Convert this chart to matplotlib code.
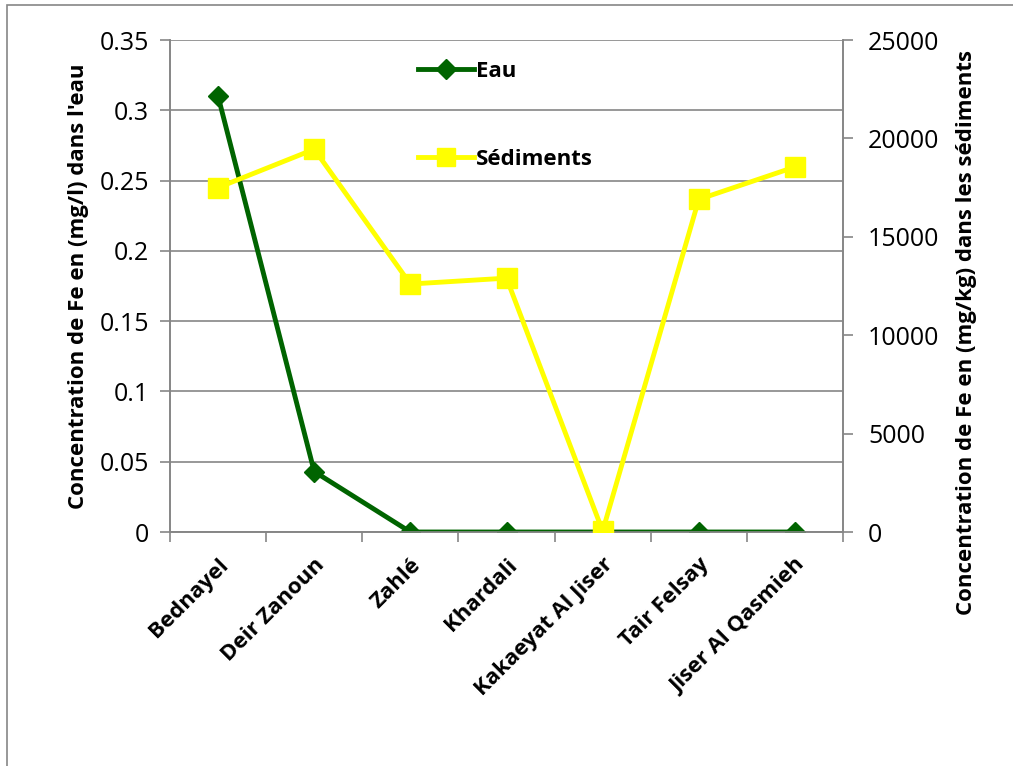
import matplotlib
matplotlib.use("Agg")
import matplotlib.pyplot as plt
from matplotlib.lines import Line2D
from matplotlib.patches import Rectangle

plt.rcParams['font.family'] = ['Open Sans', 'DejaVu Sans']

categories = ["Bednayel", "Deir Zanoun", "Zahlé", "Khardali", "Kakaeyat Al Jiser", "Tair Felsay", "Jiser Al Qasmieh"]
eau = [0.31, 0.043, 0.0, 0.0, 0.0, 0.0, 0.0]
sediments = [17500, 19450, 12600, 12900, 50, 16900, 18550]
left_ticks = [0, 0.05, 0.1, 0.15, 0.2, 0.25, 0.3, 0.35]
left_ticklabels = ["0", "0.05", "0.1", "0.15", "0.2", "0.25", "0.3", "0.35"]
right_ticks = [0, 5000, 10000, 15000, 20000, 25000]

W, H = 1013, 766
fig = plt.figure(figsize=(W/100, H/100), dpi=100)
ax = fig.add_axes([170/W, 1-532/H, (843-170)/W, (532-40)/H])
ax2 = ax.twinx()

gray = '#868686'
green = '#006400'
yellow = '#FFFF00'

x = list(range(len(categories)))
ax.plot(x, eau, color=green, lw=3.5, marker='D', ms=10.5, label='Eau', zorder=3)
ax2.plot(x, sediments, color=yellow, lw=3.5, marker='s', ms=14, label='Sédiments', zorder=3)

ax.set_xlim(-0.5, len(categories)-0.5)
ax.set_ylim(0, 0.35)
ax2.set_ylim(0, 25000)
ax.set_yticks(left_ticks)
ax.set_yticklabels(left_ticklabels)
ax2.set_yticks(right_ticks)
ax.yaxis.grid(True, color=gray, lw=1.2)
ax.set_axisbelow(True)

ax.set_xticks(x)
ax.set_xticklabels(categories, rotation=45, ha='right', rotation_mode='anchor',
                   fontsize=16, fontweight='bold')
ax.set_xticks([i-0.5 for i in range(len(categories)+1)], minor=True)
ax.tick_params(axis='x', which='major', length=0, pad=16)
ax.tick_params(axis='x', which='minor', length=7, color=gray, width=1.2, direction='out')
ax.tick_params(axis='y', labelsize=18, length=7, color=gray, width=1.2, pad=8)
ax2.tick_params(axis='y', labelsize=18, length=7, color=gray, width=1.2, pad=11)

for a in (ax, ax2):
    for s in a.spines.values():
        s.set_color(gray)
        s.set_linewidth(1.2)
ax.spines['top'].set_visible(False)
ax2.spines['top'].set_visible(False)

ax.set_ylabel("Concentration de Fe en (mg/l) dans l'eau", fontsize=16, fontweight='bold', labelpad=8)
ax2.set_ylabel("Concentration de Fe en (mg/kg) dans les sédiments", fontsize=16, fontweight='bold', labelpad=10)
ax2.yaxis.set_label_coords(1.168, 0.406)

handles = [Line2D([], [], color=green, lw=3.5, marker='D', ms=10.5),
           Line2D([], [], color=yellow, lw=3.5, marker='s', ms=13)]
fig.legend(handles, ['Eau', 'Sédiments'], loc='upper left',
           bbox_to_anchor=(398/W, 1-41/H), frameon=False,
           prop={'size': 16, 'weight': 'bold'}, handlelength=2.5,
           labelspacing=3.0, handletextpad=0.1)

fig.patches.append(Rectangle((7/W, -0.1), 1.2, 1-5/H+0.1, transform=fig.transFigure,
                             fill=False, edgecolor=gray, lw=1.2))

fig.savefig("out.png", dpi=100)
